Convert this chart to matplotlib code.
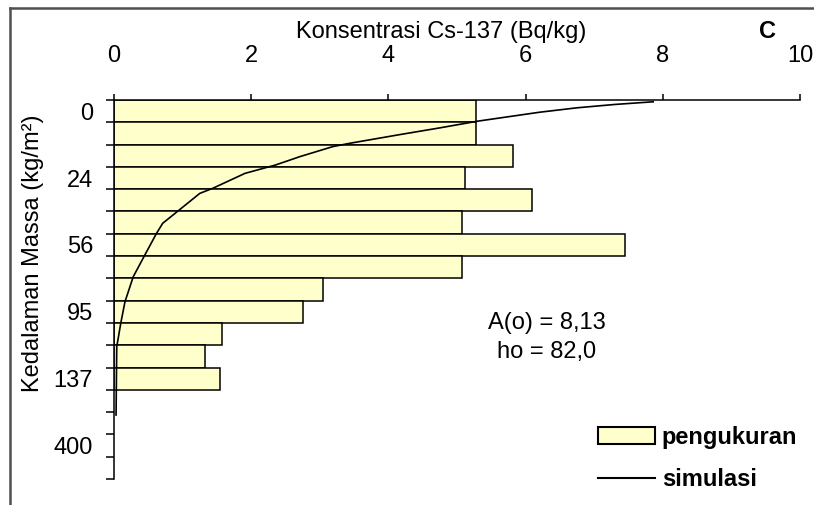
import matplotlib
matplotlib.use('Agg')
import matplotlib.pyplot as plt
from matplotlib.patches import Patch
from matplotlib.lines import Line2D

plt.rcParams['font.family'] = ['Liberation Sans', 'DejaVu Sans']

# measured Cs-137 per depth layer (Bq/kg), top layer first
pengukuran = [5.28, 5.28, 5.81, 5.11, 6.09, 5.08, 7.45, 5.07, 3.05, 2.75, 1.58, 1.33, 1.55]
n_cat = 17
depth_labels = ['0', '24', '56', '95', '137', '400']
label_every = 3

# simulated profile, position along the depth axis vs concentration
sim_pos = [-0.42, -0.30, -0.15, 0.05, 0.25, 0.45, 0.75, 1.05, 1.44, 1.59, 2.04, 2.42,
           2.79, 3.46, 3.69, 4.51, 5.03, 5.48, 6.45, 7.43, 8.55, 9.49, 10.57, 13.63]
sim_val = [7.86, 7.30, 6.75, 6.20, 5.75, 5.30, 4.75, 4.17, 3.44, 3.19, 2.71, 2.35,
           1.91, 1.44, 1.25, 0.92, 0.71, 0.62, 0.45, 0.28, 0.16, 0.10, 0.04, 0.03]

fs = 17
W, H = 814, 505
fig = plt.figure(figsize=(W / 100, H / 100), dpi=100)
ax = fig.add_axes([114 / W, 1 - 479 / H, (800 - 114) / W, (479 - 100) / H])

ax.barh(range(len(pengukuran)), pengukuran, height=1.0, color='#FFFFCC',
        edgecolor='black', linewidth=1.1)
ax.plot(sim_val, sim_pos, color='black', linewidth=1.2)

ax.set_xlim(0, 10)
ax.set_ylim(n_cat - 0.5, -0.5)

ax.xaxis.tick_top()
ax.set_xticks(range(0, 11, 2))
ax.tick_params(axis='x', direction='out', length=4, width=1.1, pad=20, labelsize=fs)

ax.set_yticks([i * label_every for i in range(len(depth_labels))])
ax.set_yticklabels(depth_labels)
ax.set_yticks([i - 0.5 for i in range(n_cat + 1)], minor=True)
ax.tick_params(axis='y', which='major', length=0, pad=15, labelsize=fs)
ax.tick_params(axis='y', which='minor', direction='out', length=6, width=1.1)

for s in ['right', 'bottom']:
    ax.spines[s].set_visible(False)
for s in ['left', 'top']:
    ax.spines[s].set_linewidth(1.1)

fig.text(441 / W, 1 - 32 / H, 'Konsentrasi Cs-137 (Bq/kg)', ha='center', va='center', fontsize=fs)
fig.text(768 / W, 1 - 32 / H, 'C', ha='center', va='center', fontsize=fs, fontweight='bold')
fig.text(33 / W, 1 - 253 / H, 'Kedalaman Massa (kg/m²)', ha='center', va='center',
         rotation=90, fontsize=fs)

fig.text(547 / W, 1 - 323 / H, 'A(o) = 8,13', ha='center', va='center', fontsize=fs)
fig.text(547 / W, 1 - 352 / H, 'ho = 82,0', ha='center', va='center', fontsize=fs)

handles = [Patch(facecolor='#FFFFCC', edgecolor='black', linewidth=1.5),
           Line2D([0], [0], color='black', linewidth=1.5)]
fig.legend(handles, ['pengukuran', 'simulasi'], loc='upper left',
           bbox_to_anchor=(598 / W, 1 - 426 / H), frameon=False, borderpad=0,
           borderaxespad=0, handlelength=2.4, handleheight=0.7, handletextpad=0.3,
           labelspacing=0.8, prop={'size': fs, 'weight': 'bold'})

# outer frame line, top and left
fig.add_artist(Line2D([10 / W, 1], [1 - 8 / H, 1 - 8 / H], color='#505050', linewidth=1.8))
fig.add_artist(Line2D([10 / W, 10 / W], [0, 1 - 8 / H], color='#505050', linewidth=1.8))

fig.savefig('out.png', dpi=100)
